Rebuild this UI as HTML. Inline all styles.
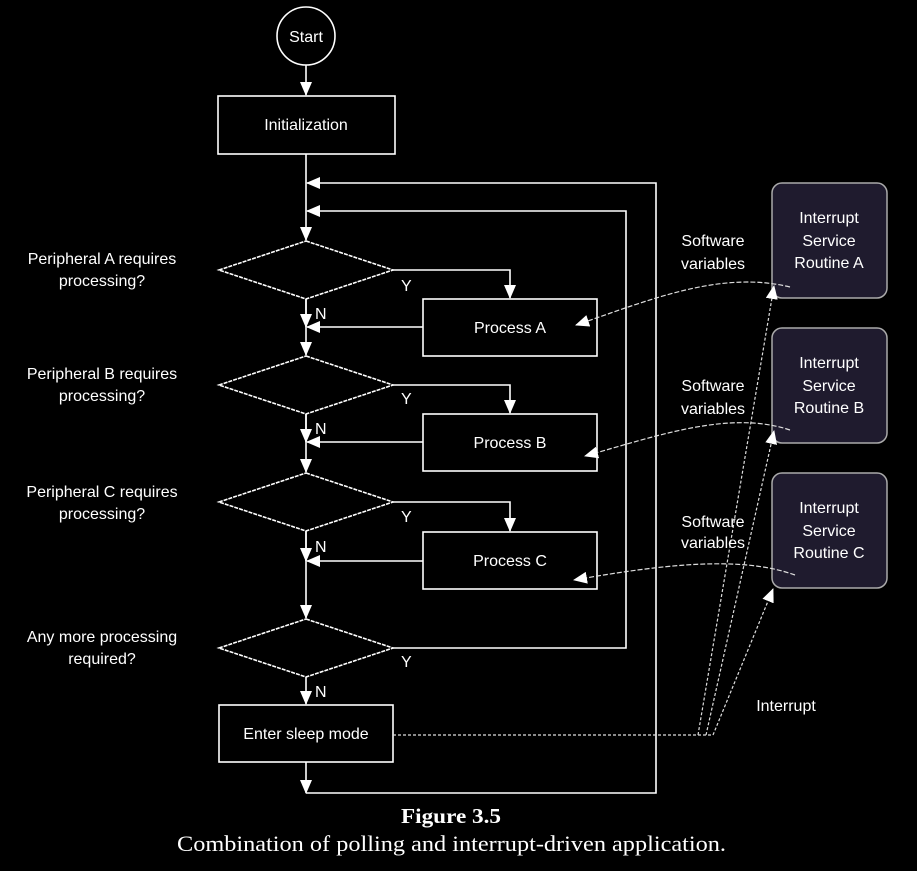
<!DOCTYPE html>
<html><head><meta charset="utf-8"><style>
html,body{margin:0;padding:0;background:#000;}
svg{display:block}
text{font-family:"Liberation Sans",sans-serif;fill:#fff;font-size:16px}
</style></head><body>
<svg width="917" height="871" viewBox="0 0 917 871" xmlns="http://www.w3.org/2000/svg">
<defs>
<marker id="b" markerWidth="14" markerHeight="12" refX="13" refY="6" orient="auto" markerUnits="userSpaceOnUse"><path d="M0,0 L14,6 L0,12 Z" fill="#fff"/></marker>
</defs>
<g stroke="#fff" stroke-width="1.6" fill="none">
<circle cx="306" cy="36" r="29"/>
<rect x="218" y="96" width="177" height="58"/>
<rect x="423" y="299" width="174" height="57"/>
<rect x="423" y="414" width="174" height="57"/>
<rect x="423" y="532" width="174" height="57"/>
<rect x="219" y="705" width="174" height="57"/>
<path d="M306,241 L393,270 L306,299 L219,270 Z" stroke-dasharray="4,1"/>
<path d="M306,356 L393,385 L306,414 L219,385 Z" stroke-dasharray="4,1"/>
<path d="M306,473 L393,502 L306,531 L219,502 Z" stroke-dasharray="4,1"/>
<path d="M306,619 L393,648 L306,677 L219,648 Z" stroke-dasharray="4,1"/>
<line x1="306" y1="65" x2="306" y2="95" marker-end="url(#b)"/>
<line x1="306" y1="154" x2="306" y2="240" marker-end="url(#b)"/>
<line x1="306" y1="299" x2="306" y2="355" marker-end="url(#b)"/>
<line x1="306" y1="299" x2="306" y2="327" marker-end="url(#b)"/>
<line x1="306" y1="414" x2="306" y2="472" marker-end="url(#b)"/>
<line x1="306" y1="414" x2="306" y2="442" marker-end="url(#b)"/>
<line x1="306" y1="531" x2="306" y2="618" marker-end="url(#b)"/>
<line x1="306" y1="531" x2="306" y2="561" marker-end="url(#b)"/>
<line x1="306" y1="677" x2="306" y2="704" marker-end="url(#b)"/>
<line x1="306" y1="762" x2="306" y2="793" marker-end="url(#b)"/>
<polyline points="393,270 510,270 510,298" marker-end="url(#b)"/>
<polyline points="393,385 510,385 510,413" marker-end="url(#b)"/>
<polyline points="393,502 510,502 510,531" marker-end="url(#b)"/>
<line x1="423" y1="327" x2="307" y2="327" marker-end="url(#b)"/>
<line x1="423" y1="442" x2="307" y2="442" marker-end="url(#b)"/>
<line x1="423" y1="561" x2="307" y2="561" marker-end="url(#b)"/>
<polyline points="393,648 626,648 626,211 307,211" marker-end="url(#b)"/>
<polyline points="306,793 656,793 656,183 307,183" marker-end="url(#b)"/>
</g>
<g fill="#1f1b2e" stroke="#aaa" stroke-width="1.5">
<rect x="772" y="183" width="115" height="115" rx="10"/>
<rect x="772" y="328" width="115" height="115" rx="10"/>
<rect x="772" y="473" width="115" height="115" rx="10"/>
</g>
<g stroke="#ddd" stroke-width="1.2" fill="none">
<path d="M790,287 C720,270 650,300 576,325" stroke-dasharray="5,2" marker-end="url(#b)"/>
<path d="M790,430 C730,410 660,435 585,456" stroke-dasharray="5,2" marker-end="url(#b)"/>
<path d="M795,575 C740,555 660,565 574,580" stroke-dasharray="5,2" marker-end="url(#b)"/>
<g stroke-dasharray="3,2">
<line x1="393" y1="735" x2="713" y2="735"/>
<line x1="698" y1="735" x2="774" y2="286" marker-end="url(#b)"/>
<line x1="706" y1="735" x2="774" y2="431" marker-end="url(#b)"/>
<line x1="713" y1="735" x2="773" y2="589" marker-end="url(#b)"/>
</g>
</g>
<g text-anchor="middle">
<text x="306" y="42">Start</text>
<text x="306" y="130">Initialization</text>
<text x="510" y="333">Process A</text>
<text x="510" y="448">Process B</text>
<text x="510" y="566">Process C</text>
<text x="306" y="739">Enter sleep mode</text>
<text x="102" y="264">Peripheral A requires</text><text x="102" y="286">processing?</text>
<text x="102" y="379">Peripheral B requires</text><text x="102" y="401">processing?</text>
<text x="102" y="497">Peripheral C requires</text><text x="102" y="519">processing?</text>
<text x="102" y="642">Any more processing</text><text x="102" y="664">required?</text>
<text x="829" y="223">Interrupt</text><text x="829" y="246">Service</text><text x="829" y="268">Routine A</text>
<text x="829" y="368">Interrupt</text><text x="829" y="391">Service</text><text x="829" y="413">Routine B</text>
<text x="829" y="513">Interrupt</text><text x="829" y="536">Service</text><text x="829" y="558">Routine C</text>
<text x="713" y="246">Software</text><text x="713" y="269">variables</text>
<text x="713" y="391">Software</text><text x="713" y="414">variables</text>
<text x="713" y="527">Software</text><text x="713" y="548">variables</text>
<text x="786" y="711">Interrupt</text>
</g>
<text x="401" y="823" textLength="100" lengthAdjust="spacingAndGlyphs" style="font-family:'Liberation Serif',serif;font-size:21px;font-weight:bold">Figure 3.5</text>
<text x="177" y="851" textLength="549" lengthAdjust="spacingAndGlyphs" style="font-family:'Liberation Serif',serif;font-size:22px">Combination of polling and interrupt-driven application.</text>
<g>
<text x="401" y="291">Y</text><text x="401" y="404">Y</text><text x="401" y="522">Y</text><text x="401" y="667">Y</text>
<text x="315" y="319">N</text><text x="315" y="434">N</text><text x="315" y="552">N</text><text x="315" y="697">N</text>
</g>
</svg>
</body></html>
